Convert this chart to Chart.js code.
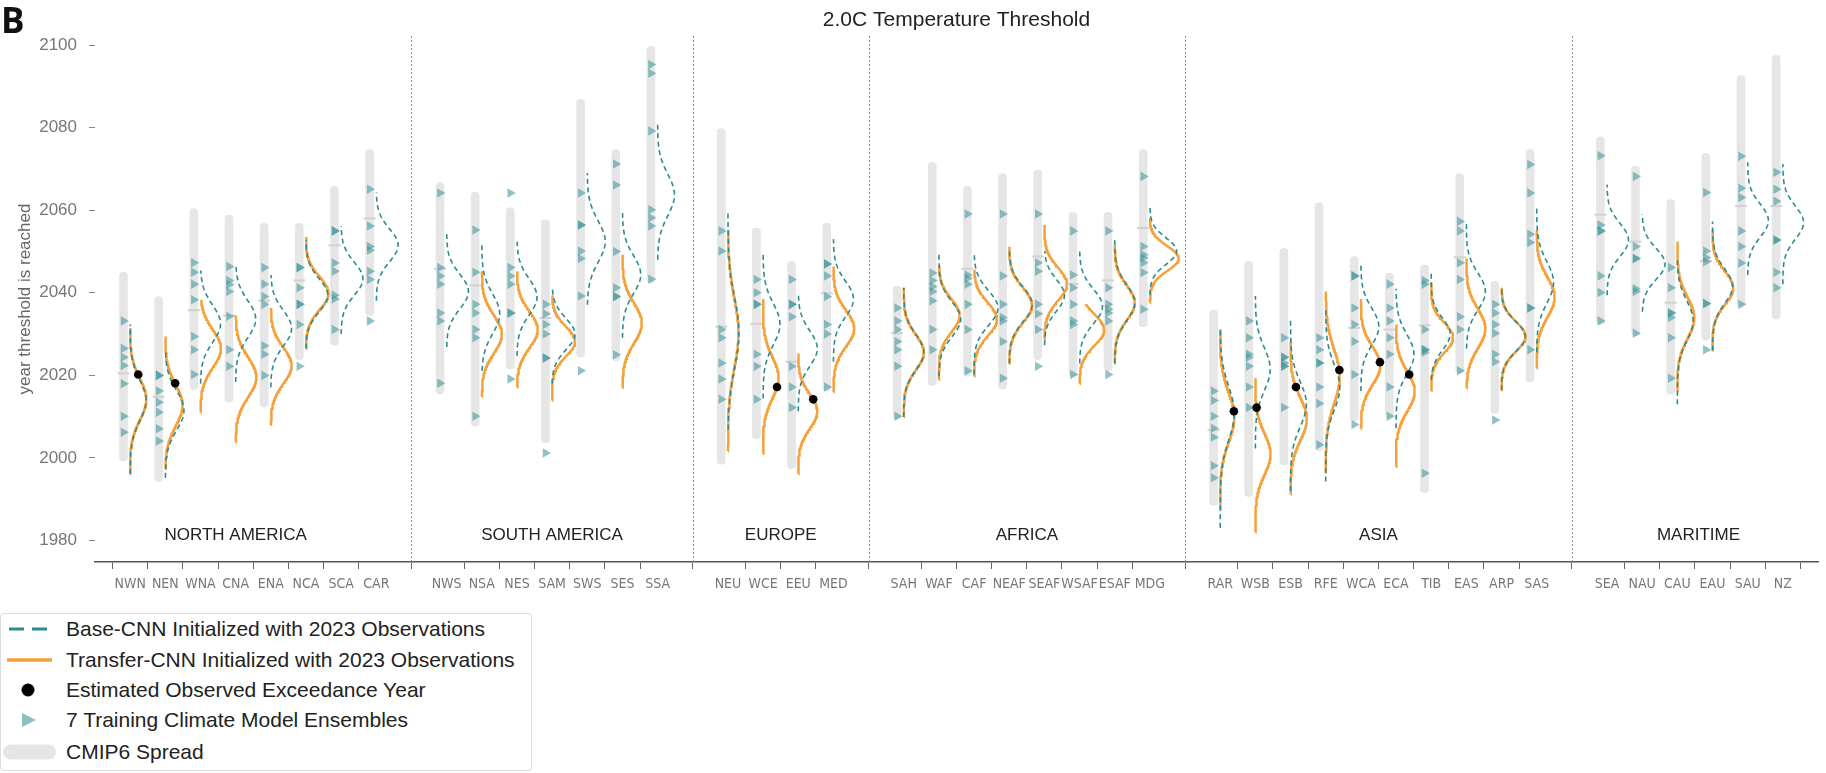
<!DOCTYPE html>
<html>
<head>
<meta charset="utf-8">
<script src="https://cdn.jsdelivr.net/npm/chart.js@4.4.0/dist/chart.umd.min.js"></script>
<style>
  body { margin: 0; background: #fff; font-family: "Liberation Sans", Arial, sans-serif; }
  #wrap { position: relative; width: 1826px; height: 773px; overflow: hidden; }
  #box { position: absolute; left: 0; top: 0; width: 1826px; height: 600px; }
  #legend { position: absolute; left: 0; top: 613px; width: 532px; height: 158px;
            border: 1px solid #ddd; border-radius: 4px; box-sizing: border-box; background: #fff; }
  .row { position: absolute; left: 0; height: 30px; display: flex; align-items: center;
         font-size: 21px; color: #222; white-space: nowrap; }
  .row svg { width: 60px; height: 30px; margin-right: 5px; }
</style>
</head>
<body>
<div id="wrap">
  <div id="box"><canvas id="myChart"></canvas></div>
  <div id="legend">
    <div class="row" style="top:0px"><svg><line x1="8" y1="15" x2="50" y2="15" stroke="#2e8b8c" stroke-width="3" stroke-dasharray="15 8"/></svg>Base-CNN Initialized with 2023 Observations</div>
    <div class="row" style="top:31px"><svg><line x1="6" y1="15" x2="51" y2="15" stroke="#f6a03a" stroke-width="3.5"/></svg>Transfer-CNN Initialized with 2023 Observations</div>
    <div class="row" style="top:61px"><svg><circle cx="27" cy="15" r="6.5" fill="#000"/></svg>Estimated Observed Exceedance Year</div>
    <div class="row" style="top:91px"><svg><polygon points="21,8 35,15 21,22" fill="rgba(64,150,155,0.6)"/></svg>7 Training Climate Model Ensembles</div>
    <div class="row" style="top:123px"><svg><rect x="2" y="7.5" width="53" height="15" rx="7.5" fill="#e6e6e6"/></svg>CMIP6 Spread</div>
  </div>
</div>
<script>
const continents = ["NORTH AMERICA", "SOUTH AMERICA", "EUROPE", "AFRICA", "ASIA", "MARITIME"];
const continentSizes = [8, 7, 4, 8, 10, 6];
const regionNames = [
  "NWN", "NEN", "WNA", "CNA", "ENA", "NCA", "SCA", "CAR",
  "NWS", "NSA", "NES", "SAM", "SWS", "SES", "SSA",
  "NEU", "WCE", "EEU", "MED",
  "SAH", "WAF", "CAF", "NEAF", "SEAF", "WSAF", "ESAF", "MDG",
  "RAR", "WSB", "ESB", "RFE", "WCA", "ECA", "TIB", "EAS", "ARP", "SAS",
  "SEA", "NAU", "CAU", "EAU", "SAU", "NZ"
];
const yTicks = [1980, 2000, 2020, 2040, 2060, 2080, 2100];

// CMIP6 spread (min / max) and median
const cmipLow = [
  1999.2, 1994.3, 2016.6, 2013.5, 2012.3, 2023.8, 2027.3, 2034.5,
  2015.5, 2007.7, 2021.5, 2003.7, 2024.4, 2023.5, 2042.5,
  1998.5, 2004.6, 1997.4, 2016.2,
  2009.5, 2017.5, 2019.8, 2016.6, 2023.8, 2019.8, 2021.1, 2031.8,
  1988.5, 1990.7, 1998.3, 2001.7, 2009.0, 2009.9, 1991.6, 2020.6, 2010.8, 2018.4,
  2032.4, 2029.6, 2015.5, 2028.5, 2036.7, 2033.6
];
const cmipHigh = [
  2045.0, 2039.0, 2060.4, 2058.8, 2056.8, 2056.8, 2065.8, 2074.7,
  2066.7, 2064.4, 2060.6, 2057.7, 2086.8, 2074.7, 2099.7,
  2079.8, 2055.7, 2047.6, 2056.8,
  2041.6, 2071.6, 2065.8, 2068.9, 2069.8, 2059.5, 2059.5, 2074.7,
  2035.8, 2047.6, 2050.8, 2061.8, 2048.8, 2044.8, 2046.7, 2068.9, 2042.8, 2074.7,
  2077.8, 2070.7, 2062.6, 2073.8, 2092.6, 2097.5
];
const cmipMedian = [
  2020.5, 2014.8, 2035.8, 2034.5, 2038.1, 2043.0, 2051.5, 2058.0,
  2045.8, 2041.8, null, 2033.9, null, null, null,
  2031.8, 2032.5, 2023.3, 2039.9,
  2030.2, null, 2045.8, null, 2048.8, 2042.1, 2043.0, 2055.7,
  2006.8, null, null, null, 2031.5, 2031.1, 2032.1, 2048.6, null, null,
  2058.9, 2052.4, 2037.6, 2047.7, 2061.0, 2061.0
];

// 7 training climate model ensembles
const ensembles = [
  [2033.2, 2026.5, 2024.4, 2022.4, 2018.0, 2010.1, 2006.2],
  [2020.0, 2020.0, 2016.2, 2013.5, 2011.1, 2007.1, 2004.1],
  [2047.3, 2045.0, 2042.1, 2038.3, 2029.4, 2026.2, 2020.2],
  [2046.4, 2043.0, 2042.0, 2040.3, 2034.3, 2026.2, 2022.2],
  [2046.1, 2042.1, 2039.1, 2037.2, 2027.2, 2025.1, 2020.0],
  [2046.1, 2046.1, 2041.2, 2037.2, 2037.2, 2032.3, 2022.2],
  [2055.0, 2055.0, 2047.2, 2045.2, 2039.4, 2038.5, 2031.1],
  [2065.1, 2056.2, 2051.2, 2050.3, 2045.2, 2043.2, 2033.2],
  [2064.2, 2046.1, 2044.1, 2042.1, 2035.1, 2033.2, 2018.1],
  [2055.2, 2045.0, 2037.2, 2035.1, 2031.1, 2029.1, 2010.1],
  [2064.2, 2046.1, 2044.1, 2042.1, 2035.1, 2035.1, 2019.1],
  [2037.2, 2034.9, 2032.3, 2030.0, 2024.2, 2024.2, 2001.2],
  [2064.2, 2056.4, 2056.4, 2050.1, 2048.3, 2039.2, 2021.1],
  [2071.2, 2066.1, 2050.0, 2041.2, 2039.1, 2039.1, 2025.0],
  [2095.3, 2093.2, 2079.2, 2060.1, 2058.2, 2056.2, 2043.3],
  [2055.0, 2050.1, 2031.1, 2029.1, 2023.0, 2019.1, 2014.2],
  [2043.2, 2040.0, 2037.2, 2037.2, 2025.1, 2022.2, 2014.2],
  [2043.2, 2037.2, 2037.2, 2034.2, 2022.2, 2017.2, 2012.2],
  [2047.0, 2047.0, 2044.1, 2039.1, 2032.3, 2030.0, 2017.2],
  [2036.3, 2033.2, 2031.1, 2028.2, 2026.2, 2022.2, 2010.1],
  [2044.8, 2043.0, 2041.5, 2040.3, 2038.1, 2031.1, 2026.2],
  [2059.1, 2044.3, 2043.5, 2042.1, 2037.2, 2031.1, 2021.1],
  [2059.1, 2044.1, 2037.2, 2034.0, 2033.2, 2028.2, 2019.3],
  [2059.1, 2047.3, 2045.2, 2037.2, 2034.9, 2031.1, 2022.2],
  [2055.0, 2044.3, 2041.2, 2037.2, 2033.2, 2032.3, 2020.2],
  [2055.0, 2041.2, 2037.2, 2036.0, 2035.1, 2033.2, 2020.2],
  [2068.2, 2051.2, 2049.2, 2048.5, 2047.3, 2044.9, 2036.0],
  [2016.2, 2013.9, 2010.1, 2007.2, 2005.0, 1998.1, 1995.2],
  [2033.2, 2029.1, 2025.1, 2024.4, 2022.2, 2017.2, 2012.2],
  [2029.1, 2024.4, 2024.4, 2023.0, 2022.2, 2022.2, 2012.2],
  [2029.1, 2026.2, 2023.0, 2023.0, 2017.2, 2013.2, 2003.2],
  [2044.1, 2044.1, 2036.3, 2032.3, 2028.2, 2020.2, 2008.1],
  [2042.1, 2036.3, 2033.2, 2029.1, 2025.1, 2017.2, 2010.1],
  [2043.0, 2042.1, 2031.1, 2026.2, 2026.2, 2025.6, 1996.3],
  [2057.3, 2055.0, 2047.3, 2043.2, 2034.2, 2031.1, 2021.1],
  [2037.2, 2035.1, 2032.3, 2030.2, 2025.1, 2023.3, 2009.2],
  [2071.1, 2064.2, 2054.2, 2052.2, 2036.3, 2036.3, 2026.2],
  [2073.2, 2056.4, 2055.0, 2055.0, 2044.1, 2040.1, 2033.2],
  [2068.2, 2051.2, 2048.3, 2048.3, 2041.0, 2040.3, 2030.2],
  [2046.1, 2041.2, 2035.1, 2035.1, 2034.0, 2029.1, 2019.3],
  [2064.3, 2050.1, 2048.5, 2047.5, 2037.4, 2037.4, 2026.2],
  [2073.1, 2065.3, 2063.1, 2055.0, 2051.2, 2047.2, 2037.2],
  [2069.2, 2065.1, 2062.2, 2052.8, 2052.8, 2045.0, 2041.2]
];

// Base-CNN distribution: peak year, spread, peak density, lower / upper end
const baseMu = [
  2013.9, 2011.5, 2032.5, 2033.6, 2031.4, 2039.4, 2043.4, 2051.5,
  2040.3, 2034.9, 2039.0, 2030.0, 2052.4, 2044.4, 2063.7,
  2030.3, 2032.4, 2026.5, 2038.5,
  2025.6, 2033.6, 2036.3, 2037.2, 2039.4, 2036.7, 2037.6, 2050.1,
  2010.8, 2021.5, 2013.0, 2017.1, 2031.8, 2025.1, 2030.0, 2040.3, 2029.4, 2042.5,
  2052.8, 2047.0, 2033.2, 2041.6, 2057.5, 2057.0
];
const baseSd = [
  5.0, 4.8, 4.5, 4.5, 4.3, 4.0, 4.0, 4.0,
  4.2, 4.8, 4.4, 3.8, 5.0, 4.6, 5.0,
  8.5, 5.0, 4.3, 4.3,
  4.3, 4.2, 4.2, 4.2, 3.8, 4.2, 4.3, 3.2,
  6.5, 5.2, 5.5, 5.5, 4.5, 4.8, 3.8, 4.5, 3.6, 5.0,
  4.0, 3.8, 4.8, 4.2, 4.0, 4.0
];
const baseDensity = [
  0.45, 0.53, 0.57, 0.57, 0.59, 0.62, 0.62, 0.62,
  0.62, 0.51, 0.57, 0.65, 0.51, 0.52, 0.48,
  0.31, 0.48, 0.54, 0.57,
  0.57, 0.62, 0.68, 0.65, 0.57, 0.65, 0.57, 0.76,
  0.40, 0.42, 0.45, 0.40, 0.51, 0.51, 0.54, 0.54, 0.68, 0.48,
  0.61, 0.65, 0.45, 0.57, 0.59, 0.59
];
const baseLo = [
  1996.1, 1995.2, 2018.0, 2018.4, 2017.1, 2026.5, 2030.0, 2038.1,
  2026.9, 2021.1, 2024.7, 2018.0, 2037.1, 2029.1, 2048.0,
  2006.9, 2014.4, 2011.3, 2023.3,
  2009.9, 2019.8, 2020.2, 2022.9, 2027.3, 2022.9, 2022.9, 2039.4,
  1983.1, 2002.3, 1992.0, 1994.3, 2016.2, 2007.2, 2018.9, 2026.5, 2016.4, 2025.6,
  2039.4, 2035.4, 2013.0, 2026.0, 2044.3, 2042.1
];
const baseHi = [
  2032.3, 2026.0, 2045.4, 2047.0, 2044.3, 2052.8, 2056.2, 2064.3,
  2054.2, 2051.9, 2052.4, 2041.2, 2069.0, 2059.3, 2080.7,
  2060.1, 2049.4, 2040.0, 2053.0,
  2041.2, 2049.2, 2049.2, 2051.0, 2050.1, 2050.1, 2052.8, 2061.0,
  2031.4, 2039.2, 2034.0, 2036.3, 2047.0, 2041.0, 2045.2, 2057.1, 2041.2, 2061.0,
  2066.2, 2059.1, 2048.5, 2057.3, 2071.6, 2071.2
];

// Transfer-CNN distribution (null where not shown)
const transMu = [
  2014.3, 2012.8, 2026.5, 2019.6, 2022.4, 2039.9, null, null,
  null, 2030.0, 2031.1, 2028.2, null, 2032.7, null,
  2030.3, 2019.5, 2011.3, 2031.4,
  2025.6, 2034.5, 2033.6, 2037.0, 2042.1, 2031.0, 2037.6, 2048.3,
  2009.9, 2001.0, 2009.5, 2019.8, 2022.4, 2016.2, 2029.1, 2031.4, 2029.4, 2039.0,
  null, null, 2034.0, 2041.2, null, null
];
const transSd = [
  5.0, 5.0, 4.6, 4.8, 4.4, 4.0, null, null,
  null, 4.6, 4.4, 3.6, null, 4.8, null,
  8.5, 5.0, 4.2, 4.4,
  4.3, 4.0, 4.0, 4.2, 4.0, 3.8, 4.2, 3.0,
  6.0, 5.0, 5.2, 6.5, 4.6, 4.8, 3.6, 4.8, 3.6, 4.8,
  null, null, 5.0, 4.0, null, null
];
const transDensity = [
  0.46, 0.49, 0.58, 0.59, 0.59, 0.64, null, null,
  null, 0.57, 0.59, 0.65, null, 0.55, null,
  0.30, 0.44, 0.54, 0.59,
  0.57, 0.59, 0.65, 0.65, 0.64, 0.70, 0.57, 0.82,
  0.40, 0.43, 0.46, 0.40, 0.55, 0.53, 0.62, 0.54, 0.68, 0.51,
  null, null, 0.48, 0.59, null, null
];
const transLo = [
  1996.1, 1997.4, 2011.0, 2003.8, 2008.0, 2026.5, null, null,
  null, 2014.8, 2017.1, 2013.9, null, 2017.0, null,
  2001.6, 2001.0, 1996.1, 2016.0,
  2009.9, 2018.9, 2019.8, 2022.9, 2028.7, 2018.0, 2022.9, 2037.6,
  1987.6, 1982.0, 1991.2, 1996.5, 2007.1, 1997.9, 2016.2, 2016.9, 2016.4, 2021.7,
  null, null, 2016.2, 2026.0, null, null
];
const transHi = [
  2031.5, 2029.4, 2038.3, 2034.5, 2036.3, 2053.5, null, null,
  null, 2045.2, 2045.2, 2039.4, null, 2049.2, null,
  2055.3, 2038.5, 2025.3, 2046.4,
  2041.2, 2046.6, 2045.6, 2051.0, 2056.4, 2037.2, 2051.5, 2058.2,
  2031.2, 2019.3, 2028.2, 2040.3, 2038.5, 2032.3, 2042.5, 2048.3, 2041.2, 2055.3,
  null, null, 2052.4, 2055.3, null, null
];

// estimated observed exceedance year
const obsYear = [
  2020.2, 2018.1, null, null, null, null, null, null,
  null, null, null, null, null, null, null,
  null, 2017.2, 2014.2, null,
  null, null, null, null, null, null, null, null,
  2011.3, 2012.2, 2017.2, 2021.3, 2023.2, 2020.2, null, null, null, null,
  null, null, null, null, null, null
];

// slot of each region on the x axis, one empty slot between continents
const xPos = [];
const separators = [];
let slot = 0;
continentSizes.forEach((n, c) => {
  if (c > 0) separators.push(slot - 1);
  for (let k = 0; k < n; k++) xPos.push(slot + k);
  slot += n + 1;
});
const barShift = -0.19;

function density(mu, sd, amp, t) {
  return amp * Math.exp(-0.5 * Math.pow((t - mu) / sd, 2));
}

function curves(mu, sd, amp, lo, hi) {
  const pts = [];
  xPos.forEach((x0, i) => {
    if (mu[i] == null) return;
    for (let t = lo[i]; t < hi[i]; t += 0.25) {
      pts.push({ x: x0 + density(mu[i], sd[i], amp[i], t), y: t });
    }
    pts.push({ x: x0 + density(mu[i], sd[i], amp[i], hi[i]), y: hi[i] });
    pts.push({ x: x0, y: null });
  });
  return pts;
}

const barData = xPos.map((x0, i) => ({ x: x0 + barShift, y: [cmipLow[i], cmipHigh[i]] }));
const medianData = [];
xPos.forEach((x0, i) => { if (cmipMedian[i] != null) medianData.push({ x: x0 + barShift, y: cmipMedian[i] }); });
const ensembleData = [];
xPos.forEach((x0, i) => ensembles[i].forEach(v => ensembleData.push({ x: x0 + barShift, y: v })));
const obsData = [];
xPos.forEach((x0, i) => {
  if (obsYear[i] == null) return;
  obsData.push({ x: x0 + density(transMu[i], transSd[i], transDensity[i], obsYear[i]), y: obsYear[i] });
});

const decor = {
  id: "decor",
  beforeDatasetsDraw(chart) {
    const { ctx, chartArea, scales } = chart;
    ctx.save();
    ctx.strokeStyle = "#8c8c8c";
    ctx.lineWidth = 1;
    ctx.setLineDash([2, 2]);
    separators.forEach(s => {
      const px = Math.round(scales.x.getPixelForValue(s)) + 0.5;
      ctx.beginPath();
      ctx.moveTo(px, chartArea.top);
      ctx.lineTo(px, chartArea.bottom);
      ctx.stroke();
    });
    ctx.setLineDash([]);
    ctx.fillStyle = "#222";
    ctx.font = '17px "Liberation Sans", Arial, sans-serif';
    ctx.textAlign = "center";
    ctx.textBaseline = "middle";
    // label anchors in slot units (north america sits a little left of its centre)
    const labelSlot = [3, 12, 18.5, 25.5, 35.5, 44.6];
    continents.forEach((name, c) => {
      ctx.fillText(name, scales.x.getPixelForValue(labelSlot[c]), scales.y.getPixelForValue(1981.2));
    });
    ctx.restore();
  },
  afterDraw(chart) {
    const { ctx, chartArea } = chart;
    ctx.save();
    ctx.fillStyle = "#222";
    ctx.font = '21px "Liberation Sans", Arial, sans-serif';
    ctx.textAlign = "center";
    ctx.textBaseline = "middle";
    ctx.fillText("2.0C Temperature Threshold", (chartArea.left + chartArea.right) / 2, 20);
    ctx.fillStyle = "#111";
    ctx.font = 'bold 35px "Open Sans", sans-serif';
    ctx.textAlign = "left";
    ctx.textBaseline = "alphabetic";
    ctx.fillText("B", 1, 33);
    ctx.restore();
  }
};

const config = {
  type: "scatter",
  data: {
    datasets: [
      {
        type: "bar",
        label: "CMIP6 Spread",
        data: barData,
        backgroundColor: "#e6e6e6",
        barThickness: 8,
        borderRadius: 4,
        borderSkipped: false,
        order: 6,
      },
      {
        label: "median",
        data: medianData,
        pointStyle: "line",
        pointRadius: 6,
        pointBorderWidth: 2,
        pointBorderColor: "#d2d2d2",
        order: 5,
      },
      {
        label: "7 Training Climate Model Ensembles",
        data: ensembleData,
        pointStyle: "triangle",
        rotation: 90,
        pointRadius: 5.5,
        pointBorderWidth: 0,
        pointBackgroundColor: "rgba(64,150,155,0.58)",
        order: 4,
      },
      {
        type: "line",
        label: "Transfer-CNN Initialized with 2023 Observations",
        data: curves(transMu, transSd, transDensity, transLo, transHi),
        borderColor: "#f6a03a",
        borderWidth: 2.5,
        pointRadius: 0,
        fill: false,
        tension: 0,
        spanGaps: false,
        order: 3,
      },
      {
        type: "line",
        label: "Base-CNN Initialized with 2023 Observations",
        data: curves(baseMu, baseSd, baseDensity, baseLo, baseHi),
        borderColor: "#2e8b8c",
        borderWidth: 1.6,
        borderDash: [5, 3.5],
        pointRadius: 0,
        fill: false,
        tension: 0,
        spanGaps: false,
        order: 2,
      },
      {
        label: "Estimated Observed Exceedance Year",
        data: obsData,
        pointRadius: 4.3,
        pointBackgroundColor: "#000",
        pointBorderWidth: 0,
        order: 1,
      },
    ],
  },
  options: {
    responsive: true,
    maintainAspectRatio: false,
    animation: false,
    events: [],
    layout: { padding: { top: 36, left: 0, right: 0, bottom: 0 } },
    plugins: { legend: { display: false }, tooltip: { enabled: false }, title: { display: false } },
    scales: {
      x: {
        type: "linear",
        min: -1,
        max: 48,
        offset: false,
        afterBuildTicks: (s) => { s.ticks = xPos.map(v => ({ value: v })); },
        afterFit: (s) => { s.height = 38; },
        ticks: {
          autoSkip: false,
          maxRotation: 0,
          padding: 7,
          color: "#777",
          font: { family: '"Liberation Sans Narrow", "DejaVu Sans Condensed", sans-serif', size: 14 },
          callback: (v, i) => regionNames[i],
        },
        grid: { drawOnChartArea: false, tickLength: 7, color: "#666", lineWidth: 1 },
        border: { display: true, color: "#555", width: 1.5 },
      },
      y: {
        type: "linear",
        min: 1974.8,
        max: 2102.2,
        afterBuildTicks: (s) => { s.ticks = yTicks.map(v => ({ value: v })); },
        afterFit: (s) => { s.width = 95; },
        ticks: {
          padding: 12,
          color: "#777",
          font: { family: '"Liberation Sans", Arial, sans-serif', size: 17 },
          callback: (v) => String(v),
        },
        grid: { drawOnChartArea: false, tickLength: 6, color: "#888", lineWidth: 1 },
        border: { display: false },
        title: {
          display: true,
          text: "year threshold is reached",
          color: "#666",
          font: { family: '"Liberation Sans", Arial, sans-serif', size: 17 },
          padding: { top: 15, bottom: 0 },
        },
      },
    },
  },
  plugins: [decor],
};

const myChart = new Chart(document.getElementById("myChart"), config);
</script>
</body>
</html>
